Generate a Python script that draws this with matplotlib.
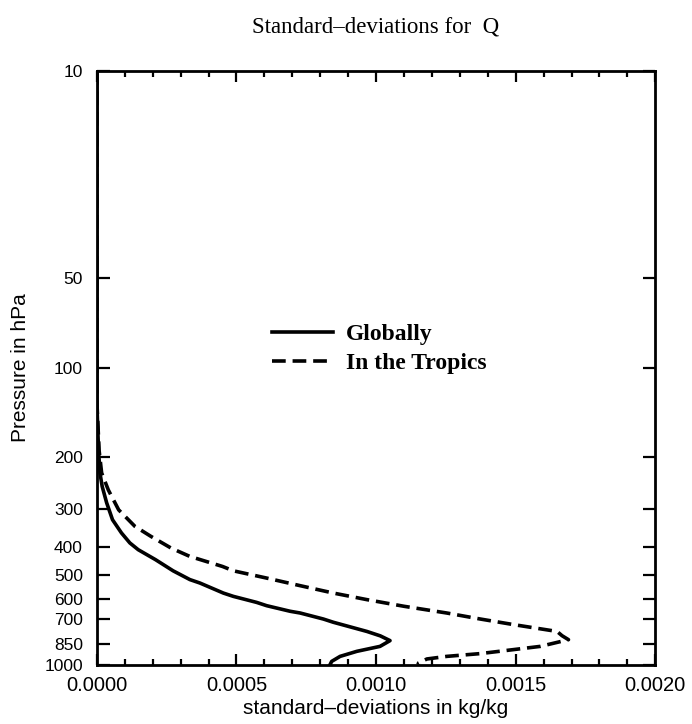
import numpy as np
import matplotlib.pyplot as plt
from matplotlib.ticker import FixedLocator, MultipleLocator

# values (std dev in kg/kg, pressure in hPa)
glob_p = [10, 50, 100, 130, 150, 190, 226, 251, 285, 325, 360, 389, 410,
          443, 483, 517, 531, 574, 589, 617, 633, 661, 670, 702, 720, 773,
          800, 830, 868, 902, 938, 975, 1000]
glob_sd = [0.0, 0.0, 0.0, 0.0, 0.000002, 0.000006, 0.000011, 0.000019,
           0.000035, 0.000056, 0.000088, 0.000118, 0.000148, 0.000210,
           0.000273, 0.000333, 0.000369, 0.000453, 0.000489, 0.000572,
           0.000608, 0.000692, 0.000728, 0.000811, 0.000847, 0.000967,
           0.001015, 0.001050, 0.001014, 0.000931, 0.000871, 0.000841,
           0.000835]

trop_p = [10, 50, 100, 130, 150, 190, 226, 258, 301, 342, 370, 405, 432,
          467, 483, 511, 542, 574, 604, 636, 670, 702, 733, 773, 799, 824,
          868, 890, 918, 938, 957, 987, 1000]
trop_sd = [0.0, 0.0, 0.0, 0.0, 0.000003, 0.000008, 0.000017, 0.000041,
           0.000078, 0.000136, 0.000194, 0.000266, 0.000333, 0.000450,
           0.000489, 0.000608, 0.000728, 0.000847, 0.000967, 0.001100,
           0.001253, 0.001373, 0.001492, 0.001648, 0.001666, 0.001689,
           0.001588, 0.001492, 0.001373, 0.001253, 0.001182, 0.001152,
           0.001150]

p_ticks = [10, 50, 100, 200, 300, 400, 500, 600, 700, 850, 1000]
x_ticks = [0.0, 0.0005, 0.0010, 0.0015, 0.0020]

plt.rcParams['font.family'] = 'Liberation Sans'

fig = plt.figure(figsize=(6.92, 7.24), dpi=100)
ax = fig.add_axes([0.140, 0.082, 0.807, 0.820])

ax.plot(glob_sd, glob_p, color='black', lw=2.6, label='Globally')
ax.plot(trop_sd, trop_p, color='black', lw=2.6, dashes=(3.8, 1.9),
        label='In the Tropics')

ax.set_yscale('log')
ax.set_ylim(1000, 10)
ax.set_xlim(0, 0.002)
ax.yaxis.set_major_locator(FixedLocator(p_ticks))
ax.yaxis.set_minor_locator(FixedLocator([]))
ax.set_yticklabels([str(p) for p in p_ticks])
ax.set_xticks(x_ticks)
ax.set_xticklabels(['%.4f' % v for v in x_ticks])
ax.xaxis.set_minor_locator(MultipleLocator(0.0001))

ax.tick_params(which='both', direction='in', top=True, right=True, width=1.6)
ax.tick_params(axis='y', which='major', length=9, pad=10, labelsize=12.5)
ax.tick_params(axis='x', which='major', length=8, pad=8, labelsize=14.5)
ax.tick_params(axis='x', which='minor', length=4.5)
for s in ax.spines.values():
    s.set_linewidth(2.0)

ax.set_xlabel('standard\u2013deviations in kg/kg', fontsize=15, labelpad=3)
ax.set_ylabel('Pressure in hPa', fontsize=15, labelpad=10)
ax.set_title('Standard\u2013deviations for  Q', fontsize=16.5,
             family='Liberation Serif', pad=28)

ax.legend(loc='upper left', bbox_to_anchor=(0.275, 0.61), frameon=False,
          handlelength=2.6, handletextpad=0.55, labelspacing=0.3,
          prop={'family': 'Liberation Serif', 'weight': 'bold', 'size': 17})

fig.savefig('out.png', dpi=100)
